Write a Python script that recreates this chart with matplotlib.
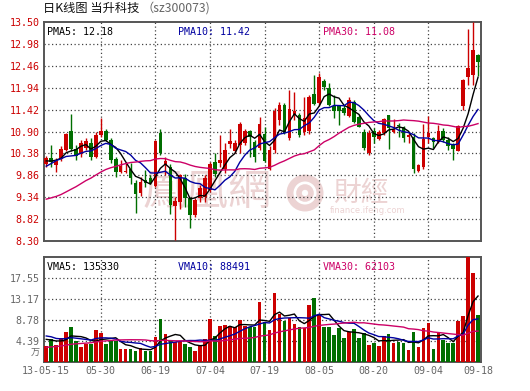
import numpy as np
import pandas as pd
import matplotlib
matplotlib.use("Agg")
import matplotlib.pyplot as plt
from matplotlib.patches import Ellipse

# ---------------- data ----------------
opens = [10.13, 10.26, 10.10, 10.24, 10.46, 10.90, 10.48, 10.36, 10.51, 10.63,
         10.30, 10.82, 10.90, 10.70, 10.24, 9.94, 9.93, 10.02, 9.68, 9.43,
         9.76, 9.79, 9.60, 10.87, 10.10, 10.05, 9.14, 9.23, 9.79, 9.31,
         8.92, 9.31, 9.35, 9.51, 10.17, 10.15, 10.02, 10.60, 10.44, 10.58,
         10.62, 10.91, 10.66, 10.50, 10.83, 10.02, 10.46, 11.17, 11.53, 10.74,
         11.29, 11.29, 10.89, 10.92, 11.80, 11.57, 12.11, 11.94, 11.51, 11.50,
         11.45, 11.27, 11.61, 11.25, 10.89, 10.38, 10.90, 10.73, 10.86, 11.28,
         10.89, 11.06, 11.00, 10.76, 10.76, 9.97, 10.06, 10.78, 10.74, 10.65,
         10.92, 10.70, 10.59, 10.44, 11.50, 12.19, 12.25, 12.71]
highs = [10.32, 10.58, 10.26, 10.55, 10.87, 11.32, 10.58, 10.70, 10.74, 10.74,
         10.90, 11.21, 10.95, 10.74, 10.30, 10.22, 10.18, 10.16, 9.75, 9.81,
         9.98, 9.86, 10.70, 10.97, 10.30, 10.13, 9.34, 9.90, 9.89, 9.35,
         9.31, 9.63, 9.87, 10.18, 10.38, 10.82, 10.62, 10.97, 10.70, 11.13,
         10.95, 10.94, 10.70, 11.25, 11.00, 10.55, 11.45, 11.61, 11.57, 11.88,
         11.84, 11.33, 11.73, 11.77, 12.24, 12.28, 12.14, 12.04, 11.77, 11.53,
         11.53, 11.71, 11.65, 11.29, 10.97, 10.93, 10.98, 10.94, 11.22, 11.30,
         11.20, 11.10, 11.02, 10.86, 10.86, 10.14, 11.08, 11.26, 10.78, 11.06,
         10.98, 10.78, 10.63, 11.06, 12.15, 13.33, 13.50, 12.74]
lows = [10.06, 10.05, 9.95, 10.19, 10.44, 10.44, 10.22, 10.30, 10.46, 10.22,
        10.26, 10.78, 10.68, 10.16, 9.83, 9.92, 9.92, 9.66, 8.96, 9.37,
        9.59, 9.65, 9.58, 10.34, 9.87, 8.95, 8.32, 9.07, 9.11, 8.60,
        8.88, 9.23, 9.23, 9.47, 9.83, 10.06, 9.91, 10.52, 10.40, 10.40,
        10.57, 10.30, 10.18, 10.45, 10.18, 9.98, 10.38, 11.05, 10.83, 10.70,
        11.17, 10.78, 10.82, 10.85, 11.53, 11.53, 11.88, 11.50, 11.21, 11.05,
        11.29, 11.24, 11.09, 11.00, 10.46, 10.34, 10.63, 10.71, 10.82, 10.49,
        10.86, 10.76, 10.65, 10.63, 9.91, 9.94, 10.02, 10.63, 10.52, 10.63,
        10.65, 10.47, 10.23, 10.43, 11.42, 12.01, 12.01, 12.21]
closes = [10.26, 10.18, 10.21, 10.48, 10.84, 10.48, 10.33, 10.62, 10.68, 10.30,
          10.82, 10.92, 10.71, 10.22, 9.94, 10.08, 9.96, 9.79, 9.41, 9.70,
          9.68, 9.68, 10.67, 10.40, 10.21, 9.15, 9.26, 9.86, 9.31, 8.92,
          9.27, 9.55, 9.79, 10.14, 9.90, 10.22, 10.47, 10.67, 10.62, 11.08,
          10.92, 10.78, 10.30, 11.08, 10.21, 10.47, 11.39, 11.53, 10.86, 11.43,
          11.39, 10.82, 11.21, 11.73, 11.55, 12.20, 11.95, 11.53, 11.39, 11.39,
          11.35, 11.65, 11.13, 11.01, 10.50, 10.87, 10.76, 10.88, 11.20, 10.98,
          10.97, 11.02, 10.75, 10.81, 10.02, 10.10, 10.73, 10.86, 10.65, 10.92,
          10.70, 10.55, 10.49, 11.02, 12.13, 12.41, 12.83, 12.55]
# volume in 10k shares (万)
volumes = [3.37, 4.77, 3.51, 5.05, 6.32, 7.37, 4.35, 3.16, 3.65, 3.65,
           6.67, 6.04, 3.65, 4.35, 4.35, 2.67, 2.67, 2.67, 2.32, 2.81,
           2.32, 2.32, 5.27, 8.99, 5.83, 4.35, 4.07, 4.35, 3.65, 3.16,
           2.25, 3.30, 4.77, 8.99, 5.48, 7.51, 7.72, 7.51, 7.37, 8.78,
           7.58, 7.37, 7.37, 12.64, 8.30, 6.67, 14.50, 10.00, 8.56, 9.10,
           7.93, 7.37, 7.02, 11.90, 13.40, 9.83, 7.37, 7.37, 5.60, 7.16,
           5.05, 6.18, 6.88, 5.05, 5.97, 3.51, 3.86, 3.37, 5.40, 5.76,
           4.00, 4.07, 3.86, 2.46, 6.18, 3.16, 7.16, 8.07, 2.67, 5.97,
           4.56, 3.86, 3.86, 8.56, 9.60, 22.50, 18.60, 9.83]
# estimated closes / volumes of the 29 sessions before the window (for the moving averages)
pre_closes = [9.25, 9.2, 9.1, 9.0, 8.6, 8.5, 8.45, 8.5, 8.55, 8.6,
              8.8, 8.9, 8.95, 9.0, 9.0, 9.05, 9.0, 9.1, 9.2, 9.3,
              9.55, 9.5, 10.05, 10.3, 10.35, 10.2, 10.1, 10.25, 10.2]
pre_volumes = [1.5, 1.4, 1.3, 1.6, 1.5, 1.4, 1.2, 1.3, 1.5, 1.6,
               1.4, 1.5, 1.7, 1.6, 1.8, 2.0, 2.2, 2.5, 3.0, 3.5,
               6.5, 7.0, 6.0, 5.5, 5.5, 5.5, 4.5, 5.0, 5.0]

tick_pos = [0, 11, 22, 33, 44, 55, 66, 77, 87]
tick_labels = ["13-05-15", "05-30", "06-19", "07-04", "07-19",
               "08-05", "08-20", "09-04", "09-18"]
price_ticks = [8.30, 8.82, 9.34, 9.86, 10.38, 10.90, 11.42, 11.94, 12.46, 12.98, 13.50]
vol_ticks = [4.39, 8.78, 13.17, 17.55]
pma_values = ["12.18", "11.42", "11.08"]
vma_values = ["135330", "88491", "62103"]

# ---------------- derived ----------------
n = len(closes)
x = np.arange(n)
o = np.array(opens); h = np.array(highs); l = np.array(lows); c = np.array(closes)
v = np.array(volumes)
up = c >= o
RED = "#cc0000"
GREEN = "#006e00"
cols = np.where(up, RED, GREEN)

cs = pd.Series(pre_closes + closes)
vs = pd.Series(pre_volumes + volumes)
npre = len(pre_closes)
ma = {k: cs.rolling(k).mean().values[npre:] for k in (5, 10, 30)}
vma = {k: vs.rolling(k).mean().values[npre:] for k in (5, 10, 30)}
ma_cols = {5: "#000000", 10: "#0000a0", 30: "#cc0066"}

MONO = "DejaVu Sans Mono"
FS = 7.2

fig = plt.figure(figsize=(5.30, 3.91), dpi=100)
W, H = 530.0, 391.0
L, R = 44.0, 481.0
ax = fig.add_axes([L / W, 1 - 241 / H, (R - L) / W, 219 / H])
axv = fig.add_axes([L / W, 1 - 361.5 / H, (R - L) / W, 104.5 / H])

xlim = (-0.45, 87.6)
grid_kw = dict(color="#444444", lw=0.9, linestyle=(0, (1, 2)))

for a in (ax, axv):
    a.set_xlim(*xlim)
    for s in a.spines.values():
        s.set_color("#555555")
        s.set_linewidth(1.4)
    a.tick_params(length=0)
    for t in tick_pos[1:-1]:
        a.axvline(t, zorder=1, **grid_kw)

# ---------- price panel ----------
ax.set_ylim(8.30, 13.50)
ax.set_yticks(price_ticks)
ax.set_yticklabels([f"{t:.2f}" for t in price_ticks], color=RED,
                   fontsize=FS, family=MONO)
ax.tick_params(axis="y", pad=3)
ax.set_xticks([])
for t in price_ticks[1:-1]:
    ax.axhline(t, zorder=1, **grid_kw)

# watermark
wm = "#ecd3d3"
ax.text((207 - L) / (R - L), (241 - 193) / 219, "鳳凰網", transform=ax.transAxes,
        fontsize=31, color=wm, ha="center", va="center",
        family=["Noto Sans CJK TC"], zorder=0)
ax.add_patch(Ellipse(((305 - L) / (R - L), (241 - 193) / 219), 30 / (R - L), 30 / 219,
                     transform=ax.transAxes, fill=False, ec=wm, lw=5, zorder=0))
ax.add_patch(Ellipse(((305 - L) / (R - L), (241 - 193) / 219), 12 / (R - L), 12 / 219,
                     transform=ax.transAxes, fill=False, ec=wm, lw=4, zorder=0))
ax.text((361 - L) / (R - L), (241 - 193) / 219, "財經", transform=ax.transAxes,
        fontsize=20, color=wm, ha="center", va="center",
        family=["Noto Sans CJK TC"], zorder=0)
ax.text((368 - L) / (R - L), (241 - 211) / 219, "finance.ifeng.com", transform=ax.transAxes,
        fontsize=6, color=wm, ha="center", va="center", zorder=0)

# candles
ax.vlines(x, l, h, colors=cols, lw=1.0, zorder=3)
body_bottom = np.minimum(o, c)
body_h = np.maximum(np.abs(c - o), 0.015)
ax.bar(x, body_h, bottom=body_bottom, width=0.72, color=cols, lw=0, zorder=4)

for k in (5, 10, 30):
    ax.plot(x, ma[k], color=ma_cols[k], lw=1.0, zorder=5)

ax.text(3 / (R - L), (241 - 32) / 219, f"PMA5: {pma_values[0]}", transform=ax.transAxes,
        fontsize=FS, family=MONO, color="#000000", va="center", zorder=6)
ax.text((177.5 - L) / (R - L), (241 - 32) / 219, f"PMA10: {pma_values[1]}",
        transform=ax.transAxes, fontsize=FS, family=MONO, color="#0000a0",
        va="center", zorder=6)
ax.text((322.8 - L) / (R - L), (241 - 32) / 219, f"PMA30: {pma_values[2]}",
        transform=ax.transAxes, fontsize=FS, family=MONO, color="#cc0066",
        va="center", zorder=6)

# ---------- volume panel ----------
axv.set_ylim(0, 22.05)
axv.set_yticks(vol_ticks)
axv.set_yticklabels([f"{t:.2f}" for t in vol_ticks], color="#666666",
                    fontsize=FS, family=MONO)
axv.tick_params(axis="y", pad=3)
for t in vol_ticks:
    axv.axhline(t, zorder=1, **grid_kw)
axv.bar(x, v, width=0.72, color=cols, lw=0, zorder=3)
for k in (5, 10, 30):
    axv.plot(x, vma[k], color=ma_cols[k], lw=1.0, zorder=5)
axv.set_xticks(tick_pos)
axv.set_xticklabels(tick_labels, color="#666666", fontsize=FS, family=MONO)
axv.tick_params(axis="x", pad=3.5)
axv.text(-4 / (R - L), (361.5 - 353) / 104.5, "万", transform=axv.transAxes,
         fontsize=6.5, color="#666666", ha="right", va="center",
         family=["Noto Sans CJK SC"])

axv.text(3 / (R - L), (361.5 - 267) / 104.5, f"VMA5: {vma_values[0]}", transform=axv.transAxes,
         fontsize=FS, family=MONO, color="#000000", va="center", zorder=6)
axv.text((178 - L) / (R - L), (361.5 - 267) / 104.5, f"VMA10: {vma_values[1]}",
         transform=axv.transAxes, fontsize=FS, family=MONO, color="#0000a0",
         va="center", zorder=6)
axv.text((323 - L) / (R - L), (361.5 - 267) / 104.5, f"VMA30: {vma_values[2]}",
         transform=axv.transAxes, fontsize=FS, family=MONO, color="#cc0066",
         va="center", zorder=6)

# ---------- title ----------
fig.text(43 / W, 1 - 8 / H, "日K线图 当升科技", fontsize=8.8, color="#111111",
         va="center", ha="left", family=["Noto Sans CJK SC", "DejaVu Sans"])
fig.text(141 / W, 1 - 8 / H, "（sz300073)", fontsize=8.8, color="#666666",
         va="center", ha="left", family=["Noto Sans CJK SC", "DejaVu Sans"])

fig.savefig("out.png", dpi=100)
